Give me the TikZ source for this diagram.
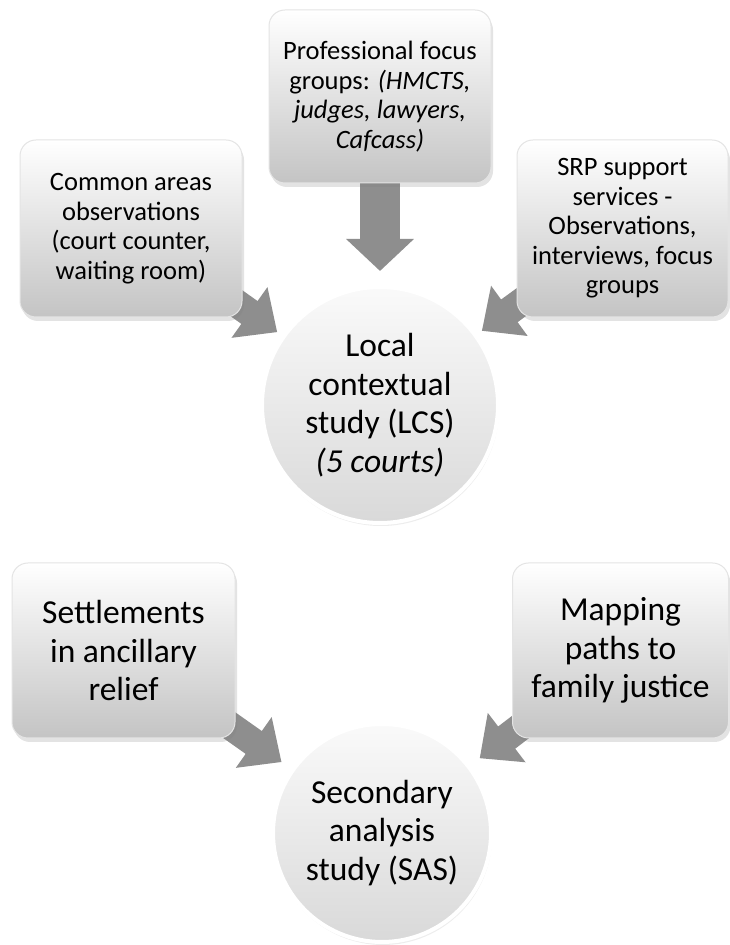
\documentclass[tikz,border=0pt]{standalone}
\usepackage{fontspec}
\setmainfont{Carlito}
\usetikzlibrary{arrows.meta,positioning,backgrounds,shadows}
\definecolor{arrowgray}{HTML}{8E8E8E}
\definecolor{boxgray}{HTML}{C4C4C4}
\definecolor{rimgray}{HTML}{E4E4E4}

\begin{document}
\begin{tikzpicture}[
    x=1pt, y=1pt,
    box/.style={draw=rimgray, line width=1pt, rectangle, rounded corners=16pt,
        top color=white, bottom color=boxgray, align=center, inner sep=2pt,
        font=\fontsize{26.5}{29.5}\selectfont,
        drop shadow={shadow xshift=2pt, shadow yshift=-4pt, opacity=0.22}},
    bigbox/.style={box, font=\fontsize{33.5}{38.5}\selectfont},
    study/.style={draw=white, line width=4pt, circle, align=center, inner sep=0pt,
        top color=gray!4, bottom color=gray!30,
        font=\fontsize{33.5}{38.5}\selectfont,
        drop shadow={shadow xshift=1pt, shadow yshift=-3pt, opacity=0.14}},
    arrow/.style={draw=arrowgray, line width=28pt,
        -{Triangle[length=34pt, width=60pt]}},
    downarrow/.style={draw=arrowgray, line width=40pt,
        -{Triangle[length=32pt, width=66pt]}}
]

\useasboundingbox (0,0) rectangle (730,945);

% Local contextual study
\node[study, minimum size=236pt] (lcs) at (380,540)
    {Local\\contextual\\study (LCS)\\\textit{(5 courts)}};

% Sources of the LCS
\node[box, minimum width=222pt, minimum height=173pt] (prof) at (380,848.5)
    {Professional focus\\groups: \textit{(HMCTS,}\\\textit{judges, lawyers,}\\\textit{Cafcass)}};
\node[box, minimum width=222pt, minimum height=177pt] (common) at (131,716.5)
    {Common areas\\observations\\(court counter,\\waiting room)};
\node[box, minimum width=211pt, minimum height=177pt] (srp) at (622.5,716.5)
    {SRP support\\services -\\Observations,\\interviews, focus\\groups};

% Secondary analysis study
\node[study, minimum size=218pt] (sas) at (382,112)
    {Secondary\\analysis\\study (SAS)};

% Sources of the SAS
\node[bigbox, minimum width=223pt, minimum height=175pt] (settle) at (123.5,294.5)
    {Settlements\\in ancillary\\relief};
\node[bigbox, minimum width=216pt, minimum height=175pt] (mapping) at (620.5,294.5)
    {Mapping\\paths to\\family justice};

% Arrows -- behind the boxes
\begin{scope}[on background layer]
\fill[white] (0,0) rectangle (730,945);
\draw[downarrow, shorten >=14pt] (prof.center) -- (lcs);
\draw[arrow, shorten >=6pt] (common.center) -- (lcs);
\draw[arrow, shorten >=6pt] (srp.center) -- (lcs);
\draw[arrow, shorten >=12pt] (settle.center) -- (sas);
\draw[arrow, shorten >=12pt] (mapping.center) -- (sas);
\end{scope}

\end{tikzpicture}
\end{document}
